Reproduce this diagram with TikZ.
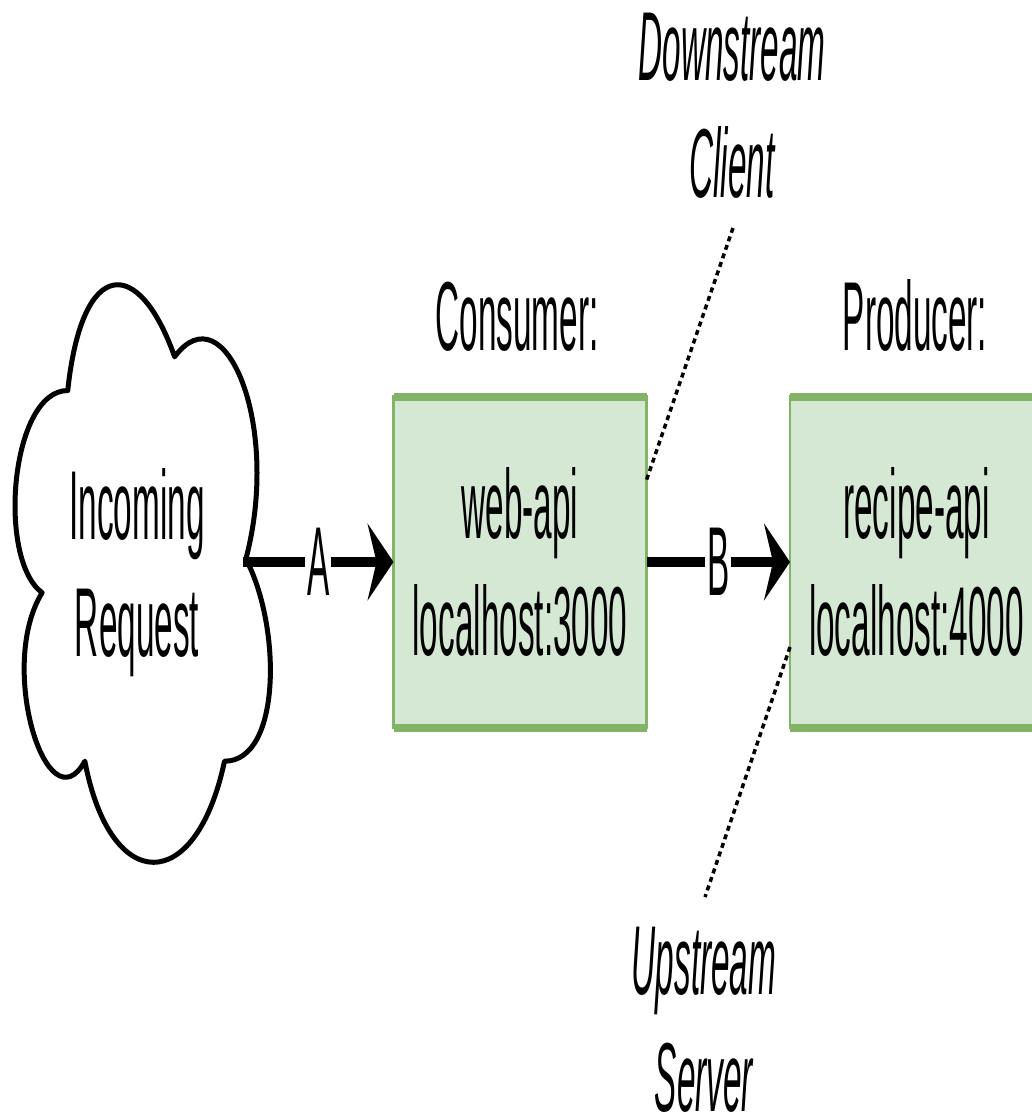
\documentclass[tikz,border=0pt]{standalone}
\usepackage{fontspec}
\setmainfont{Liberation Sans}[FakeStretch=0.34]
\usetikzlibrary{arrows.meta}
\definecolor{boxfill}{HTML}{D5E8D4}
\definecolor{boxline}{HTML}{82B366}

\begin{document}
\begin{tikzpicture}[x=1pt,y=-1pt,
  every node/.style={font=\fontsize{98}{117}\selectfont},
  svc/.style={fill=boxfill,draw=boxline,line width=2.7pt,inner sep=0pt,outer sep=0pt,
    minimum width=253pt,minimum height=331pt,align=center},
  aside/.style={align=center,font=\fontsize{98}{117}\selectfont\itshape},
  flow/.style={line width=9.5pt,-{Stealth[length=26pt,width=77pt,inset=9pt]}},
  note/.style={line width=3.5pt,dash pattern=on 5pt off 4pt},
  tag/.style={fill=white,inner sep=2pt}]
  \useasboundingbox (0,0) rectangle (1032,1118);

  % the cloud
  \begin{scope}[shift={(-3.5,222)},xscale=285,yscale=674]
    \draw[line width=5pt,line join=round] (0.25,0.25)
      .. controls (0.05,0.25) and (0,0.5) .. (0.16,0.55)
      .. controls (0,0.66) and (0.18,0.9) .. (0.31,0.8)
      .. controls (0.4,1) and (0.7,1) .. (0.8,0.8)
      .. controls (1,0.8) and (1,0.6) .. (0.875,0.5)
      .. controls (1,0.3) and (0.8,0.1) .. (0.625,0.2)
      .. controls (0.5,0.05) and (0.3,0.05) .. (0.25,0.25) -- cycle;
  \end{scope}
  \node[align=center] (req) at (137,573) {Incoming\\Request};
  \coordinate (reqport) at (243,562);

  % services
  \node[anchor=base] (cons) at (517,350) {Consumer:};
  \node[anchor=base] (prod) at (915,350) {Producer:};
  \node[svc] (web) at (520,562) {web-api\\localhost:3000};
  \node[svc] (rec) at (916.5,562) {recipe-api\\localhost:4000};
  \draw[boxline,line width=8pt] (web.north west) -- (web.north east)
    (web.south west) -- (web.south east)
    (rec.north west) -- (rec.north east)
    (rec.south west) -- (rec.south east);

  \draw[flow] (reqport) -- node[tag] (a) {A} (web.west);
  \draw[flow] (web.east) -- node[tag] (b) {B} (rec.west);

  % client / server notes
  \node[aside] (down) at (732,106) {Downstream\\Client};
  \node[aside] (up) at (704,1020) {Upstream\\Server};
  \coordinate (downfoot) at (733,228);
  \coordinate (upfoot) at (705,897);
  \draw[note] (downfoot) -- (web.east |- 0,480);
  \draw[note] (rec.west |- 0,647) -- (upfoot);
\end{tikzpicture}
\end{document}
